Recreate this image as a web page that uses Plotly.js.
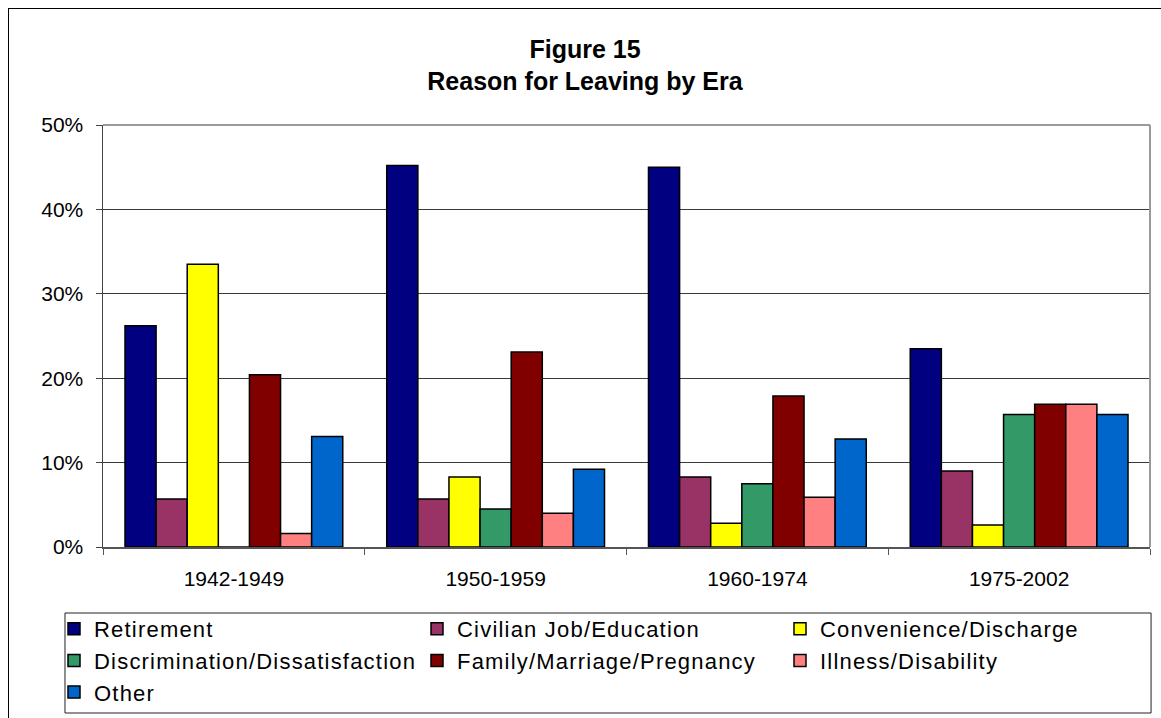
<!DOCTYPE html>
<html>
<head>
<meta charset="utf-8">
<script src="https://cdn.plot.ly/plotly-3.0.1.min.js"></script>
<style>
  html, body { margin: 0; padding: 0; background: #fff; overflow: hidden; }
  #frame { position: absolute; left: 8px; top: 8px; width: 1153px; height: 710px;
           border-left: 1px solid #000; border-top: 1px solid #000; background: #fff; }
  #chart { width: 1152px; height: 709px; }
  .legendtext { letter-spacing: 1.2px; }
</style>
</head>
<body>
<div id="frame"><div id="chart"></div></div>
<script>
// ---- data ----
const eras = ["1942-1949", "1950-1959", "1960-1974", "1975-2002"];
const seriesNames = ["Retirement", "Civilian Job/Education", "Convenience/Discharge",
  "Discrimination/Dissatisfaction", "Family/Marriage/Pregnancy", "Illness/Disability", "Other"];
const retirement     = [0.262, 0.452, 0.450, 0.235];
const civilianJob    = [0.057, 0.057, 0.083, 0.090];
const convenience    = [0.335, 0.083, 0.028, 0.026];
const discrimination = [0.000, 0.045, 0.075, 0.157];
const family         = [0.204, 0.231, 0.179, 0.169];
const illness        = [0.016, 0.040, 0.059, 0.169];
const other          = [0.131, 0.092, 0.128, 0.157];
const yTickVals = [0, 0.1, 0.2, 0.3, 0.4, 0.5];
const yTickText = ["0%", "10%", "20%", "30%", "40%", "50%"];

// ---- styles ----
const colors = ["#000080", "#993366", "#FFFF00", "#339966", "#800000", "#FF8080", "#0066CC"];
const values = [retirement, civilianJob, convenience, discrimination, family, illness, other];
const FONT = "Liberation Sans, Arial, Helvetica, sans-serif";

const traces = seriesNames.map((name, i) => ({
  type: "bar",
  name: name,
  x: eras,
  y: values[i],
  marker: { color: colors[i], line: { color: "#000", width: 1.5 } },
  hoverinfo: "skip"
}));

const layout = {
  width: 1152, height: 709,
  margin: { l: 94, r: 11, t: 116, b: 171, autoexpand: false },
  paper_bgcolor: "#fff",
  plot_bgcolor: "#fff",
  barmode: "group",
  bargap: 0.168,
  bargroupgap: 0,
  showlegend: true,
  font: { family: FONT, color: "#000" },
  title: {
    text: "<b>Figure 15</b><br><b>Reason for Leaving by Era</b>",
    font: { family: FONT, size: 25, color: "#000" },
    xref: "container", x: 0.5, xanchor: "center",
    yref: "container", y: 0.9313, yanchor: "top"
  },
  xaxis: {
    type: "category",
    showgrid: false,
    showline: true, linecolor: "#555", linewidth: 1.5,
    ticks: "outside", tickson: "boundaries", ticklen: 6, tickcolor: "#555", tickwidth: 1,
    tickfont: { family: FONT, size: 21, color: "#000" },
    ticklabelstandoff: 12,
    fixedrange: true
  },
  yaxis: {
    range: [0, 0.5],
    tickvals: yTickVals, ticktext: yTickText,
    showgrid: true, gridcolor: "#3a3a3a", gridwidth: 1,
    zeroline: false,
    showline: true, linecolor: "#444", linewidth: 1.5,
    ticks: "outside", ticklen: 6, tickcolor: "#444", tickwidth: 1,
    tickfont: { family: FONT, size: 21, color: "#000" },
    ticklabelstandoff: 8,
    fixedrange: true
  },
  legend: {
    orientation: "h",
    x: -0.0468, xanchor: "left",
    y: -0.1445, yanchor: "top",
    entrywidth: 318, entrywidthmode: "pixels",
    font: { family: FONT, size: 22, color: "#000" },
    bgcolor: "rgba(0,0,0,0)",
    borderwidth: 0,
    traceorder: "normal"
  },
  shapes: [
    // plot-area border (top and right)
    { type: "line", xref: "paper", yref: "paper", x0: 0, x1: 1, y0: 1, y1: 1,
      line: { color: "#9a9a9a", width: 2 } },
    { type: "line", xref: "paper", yref: "paper", x0: 1, x1: 1, y0: 0, y1: 1,
      line: { color: "#9a9a9a", width: 2 } },
    // legend box
    { type: "rect", xref: "paper", yref: "paper", x0: -0.0363, x1: 1.001, y0: -0.1564, y1: -0.3934,
      line: { color: "#222", width: 1 }, fillcolor: "rgba(0,0,0,0)" }
  ]
};

Plotly.newPlot("chart", traces, layout, { displayModeBar: false, staticPlot: true });
</script>
</body>
</html>
